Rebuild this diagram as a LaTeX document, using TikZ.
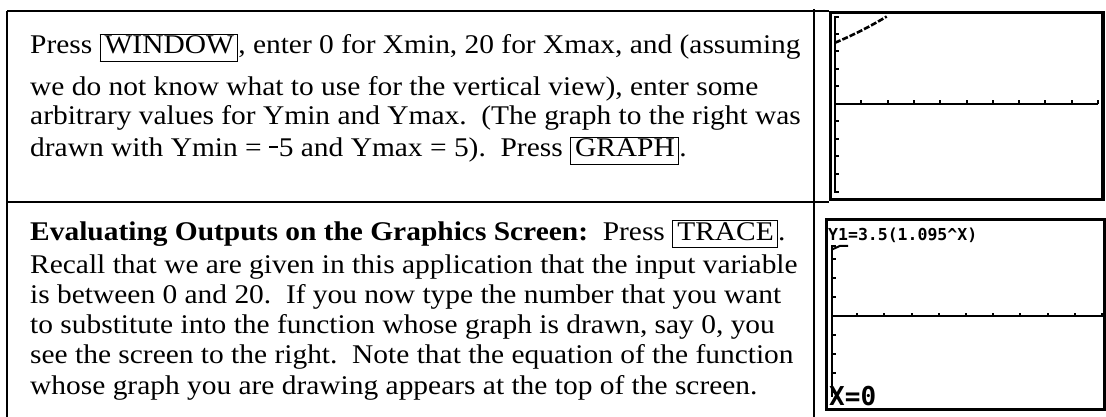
\documentclass[tikz,border=0pt]{standalone}
\usepackage{fontspec}
\setmainfont{Liberation Serif}
\newfontfamily\calcfont{DejaVu Sans Mono}
\usepackage{graphicx}
\usetikzlibrary{positioning}

\newcommand\hs{1.09}
\newcommand\keyname[1]{{\fboxsep=1.2pt\fboxrule=0.9pt\fbox{\vphantom{Ag}\kern2.5pt#1\kern2pt}}}
\newcommand\stretched[1]{\scalebox{\hs}[1]{#1}}
\newcommand\negsign{\raisebox{0.75ex}{\rule{0.3em}{0.06em}}\kern0.03em}

\begin{document}
\begin{tikzpicture}[x=1pt, y=-1pt,
    rowtext/.style={anchor=base west, inner sep=0pt, font=\fontsize{27}{31}\selectfont},
    calc/.style={anchor=base west, inner sep=0pt, font=\calcfont\bfseries\fontsize{16.5}{16.5}\selectfont},
    rule/.style={line width=2pt},
    lcd/.style={line width=3.5pt},
    axis/.style={line width=2pt},
    pix/.style={line width=2.6pt, dash pattern=on 6pt off 2pt}
]
\useasboundingbox (0,0) rectangle (1106,417);

% table rules
\draw[rule] (7,11) -- (829,11);
\draw[rule] (7,11) -- (7,420);
\draw[rule] (814,9) -- (814,420);
\draw[rule] (7,202) -- (829,202);

% first row text
\node[rowtext] (win) at (30,54) {\stretched{Press \keyname{WINDOW}, enter 0 for Xmin, 20 for Xmax, and (assuming}};
\node[rowtext] (know) at (30,96) {\stretched{we do not know what to use for the vertical view), enter some}};
\node[rowtext] (arb) at (30,125) {\stretched{arbitrary values for Ymin and Ymax.\ \ (The graph to the right was}};
\node[rowtext] (graph) at (30,157) {\stretched{drawn with Ymin = \negsign5 and Ymax = 5).\ \ Press \keyname{GRAPH}.}};

% second row text
\node[rowtext] (eval) at (30,240) {\stretched{\textbf{Evaluating Outputs on the Graphics Screen:}\ \ Press \keyname{TRACE}.}};
\node[rowtext] (recall) at (30,273) {\stretched{Recall that we are given in this application that the input variable}};
\node[rowtext] (betw) at (30,303) {\stretched{is between 0 and 20.\ \ If you now type the number that you want}};
\node[rowtext] (subst) at (30,333) {\stretched{to substitute into the function whose graph is drawn, say 0, you}};
\node[rowtext] (see) at (30,363) {\stretched{see the screen to the right.\ \ Note that the equation of the function}};
\node[rowtext] (whose) at (30,394) {\stretched{whose graph you are drawing appears at the top of the screen.}};

% graph screen
\draw[lcd] (830.5,12.5) rectangle (1103,199.5);
\draw[axis] (838.5,17) -- (835,17) -- (835,192) -- (838.5,192);
\draw[axis] (835,104) -- (1098,104);
\foreach \k in {1,...,10}
    \draw[axis] ({835+26.3*\k},104) -- ++(0,-3.5);
\foreach \k in {-4,-3,-2,-1,1,2,3,4}
    \draw[axis] (835,{104-17.5*\k}) -- ++(3.5,0);
\draw[pix] plot[domain=0:3.93, samples=20] ({835+13.15*\x},{104-17.5*3.5*1.095^\x});

% trace screen
\draw[line width=3pt] (826.5,219.5) rectangle (1104.5,409);
\node[calc] (eqn) at (828,240) {Y1=3.5(1.095\textasciicircum X)};
\draw[axis] (835.5,246) -- (832,246) -- (832,397);
\draw[axis] (832,316) -- (1104,316);
\foreach \k in {1,...,10}
    \draw[axis] ({830+27.2*\k},316) -- ++(0,-3.5);
\foreach \k in {-4,-3,-2,-1,1,2,3}
    \draw[axis] (832,{316-19*\k}) -- ++(3.5,0);
\draw[axis] plot[domain=0:0.6, samples=5] ({832+13.6*\x},{316-19*3.5*1.095^\x}) -- ++(8,0);
\node[calc, font=\calcfont\bfseries\fontsize{26}{26}\selectfont] (xval) at (829,405) {X=0};
\end{tikzpicture}
\end{document}
